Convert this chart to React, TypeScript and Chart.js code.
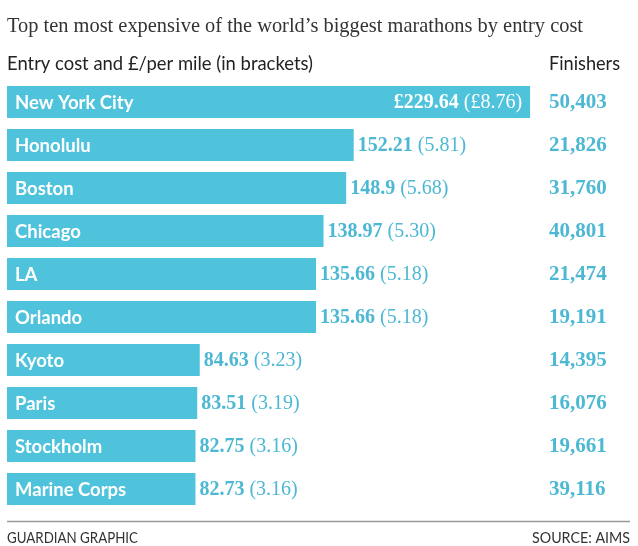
import React, { useEffect, useRef } from "react";
import { Chart, registerables } from "chart.js";

Chart.register(...registerables);

const cities = [
  "New York City",
  "Honolulu",
  "Boston",
  "Chicago",
  "LA",
  "Orlando",
  "Kyoto",
  "Paris",
  "Stockholm",
  "Marine Corps",
];
const entryCost = [229.64, 152.21, 148.9, 138.97, 135.66, 135.66, 84.63, 83.51, 82.75, 82.73];
const costLabels = ["£229.64", "152.21", "148.9", "138.97", "135.66", "135.66", "84.63", "83.51", "82.75", "82.73"];
const perMileLabels = ["(£8.76)", "(5.81)", "(5.68)", "(5.30)", "(5.18)", "(5.18)", "(3.23)", "(3.19)", "(3.16)", "(3.16)"];
const finishers = ["50,403", "21,826", "31,760", "40,801", "21,474", "19,191", "14,395", "16,076", "19,661", "39,116"];

const titleText = "Top ten most expensive of the world\u2019s biggest marathons by entry cost";
const subtitleText = "Entry cost and £/per mile (in brackets)";
const finishersHeader = "Finishers";
const footerLeft = "GUARDIAN GRAPHIC";
const footerRight = "SOURCE: AIMS";

const BAR = "#4fc3dc";
const VAL = "#4cb8d3";
const SANS = "Lato, 'Noto Sans', sans-serif";
const SERIF = "'Liberation Serif', 'DejaVu Serif', serif";

function fitText(ctx: CanvasRenderingContext2D, text: string, x: number, y: number, w: number, align: "left" | "right") {
  const m = ctx.measureText(text).width;
  const s = m > 0 ? w / m : 1;
  ctx.save();
  ctx.translate(x, y);
  ctx.scale(s, 1);
  ctx.textAlign = align;
  ctx.fillText(text, 0, 0);
  ctx.restore();
}

const labelPlugin = {
  id: "labels",
  afterDraw(chart: any) {
    const ctx: CanvasRenderingContext2D = chart.ctx;
    ctx.save();
    ctx.textBaseline = "alphabetic";
    // title
    ctx.fillStyle = "#333";
    ctx.font = `300 22px ${SERIF}`;
    fitText(ctx, titleText, 7, 32, 576, "left");
    ctx.fillStyle = "#222";
    ctx.font = `400 19px ${SANS}`;
    fitText(ctx, subtitleText, 7, 70, 306, "left");
    fitText(ctx, finishersHeader, 620, 70, 71, "right");
    // footer
    ctx.strokeStyle = "#999";
    ctx.lineWidth = 1.5;
    ctx.beginPath();
    ctx.moveTo(7, 521.5);
    ctx.lineTo(630, 521.5);
    ctx.stroke();
    ctx.fillStyle = "#333";
    ctx.font = `400 15px ${SANS}`;
    fitText(ctx, footerLeft, 7, 543, 131, "left");
    fitText(ctx, footerRight, 630, 543, 98, "right");

    const meta = chart.getDatasetMeta(0);
    meta.data.forEach((bar: any, i: number) => {
      const y = bar.y;
      ctx.textBaseline = "middle";
      ctx.textAlign = "left";
      ctx.fillStyle = "#fff";
      ctx.font = `700 18.5px ${SANS}`;
      ctx.fillText(cities[i], bar.base + 8, y + 1);

      ctx.font = `700 20px ${SERIF}`;
      const w1 = ctx.measureText(costLabels[i]).width;
      ctx.font = `400 20px ${SERIF}`;
      const w2 = ctx.measureText(perMileLabels[i]).width;
      const gap = 5;
      let x0: number;
      if (i === 0) {
        x0 = bar.x - 8 - (w1 + gap + w2);
        ctx.fillStyle = "#fff";
      } else {
        x0 = bar.x + 4;
        ctx.fillStyle = VAL;
      }
      ctx.font = `700 20px ${SERIF}`;
      ctx.fillText(costLabels[i], x0, y + 1);
      ctx.font = `400 20px ${SERIF}`;
      ctx.fillText(perMileLabels[i], x0 + w1 + gap, y + 1);

      ctx.fillStyle = VAL;
      ctx.font = `700 21px ${SERIF}`;
      ctx.fillText(finishers[i], 549, y + 1);
    });
    ctx.restore();
  },
};

export default function App() {
  const ref = useRef<HTMLCanvasElement | null>(null);
  useEffect(() => {
    if (!ref.current) return;
    const chart = new Chart(ref.current, {
      type: "bar",
      data: {
        labels: cities,
        datasets: [
          {
            data: entryCost,
            backgroundColor: BAR,
            borderWidth: 0,
            barPercentage: 0.74,
            categoryPercentage: 1,
          },
        ],
      },
      options: {
        indexAxis: "y",
        animation: false,
        responsive: false,
        maintainAspectRatio: false,
        layout: { padding: { left: 7, right: 8, top: 80.5, bottom: 35.5 } },
        plugins: { legend: { display: false }, tooltip: { enabled: false }, title: { display: false } },
        scales: {
          x: { display: false, min: 0, max: 273.5 },
          y: { display: false },
        },
      },
      plugins: [labelPlugin],
    });
    return () => chart.destroy();
  }, []);
  return (
    <div style={{ position: "absolute", left: 0, top: 0, width: 638, height: 546, background: "#fff" }}>
      <canvas ref={ref} width={638} height={546} style={{ width: 638, height: 546 }} />
    </div>
  );
}
